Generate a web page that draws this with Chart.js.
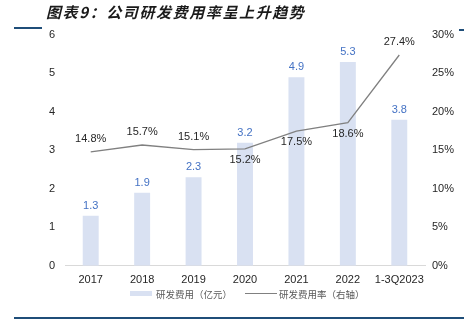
<!DOCTYPE html>
<html>
<head>
<meta charset="utf-8">
<script src="https://cdn.jsdelivr.net/npm/chart.js@4"></script>
<style>
  body { margin: 0; background: #fff; }
  #wrap { position: relative; width: 473px; height: 321px; overflow: hidden; }
  #title { position: absolute; left: 46px; top: 1px; font: italic bold 15px "Noto Sans CJK SC", sans-serif; color: #1a1a1a; letter-spacing: 1.6px; }
  .rule { position: absolute; background: #1F4E79; }
  #legend { position: absolute; top: 288px; left: 0; width: 473px; font: 9.5px "Noto Sans CJK SC", sans-serif; color: #595959; }
  .lg { position: absolute; top: 0; line-height: 12px; }
  canvas { position: absolute; left: 0; top: 0; }
</style>
</head>
<body>
<div id="wrap">
  <canvas id="rdChart" width="473" height="321"></canvas>
  <div id="title">图表9：公司研发费用率呈上升趋势</div>
  <div class="rule" style="left:14px;top:27px;width:28px;height:2px"></div>
  <div class="rule" style="left:459px;top:29px;width:5px;height:2px"></div>
  <div class="rule" style="left:14px;top:317px;width:450px;height:2px"></div>
  <div id="legend">
    <div class="lg" style="left:130px;top:3px;width:22px;height:5px;background:#D9E1F2"></div>
    <div class="lg" style="left:156px">研发费用（亿元）</div>
    <div class="lg" style="left:245px;top:5px;width:32px;height:1px;background:#808080"></div>
    <div class="lg" style="left:279px">研发费用率（右轴）</div>
  </div>
</div>
<script>
var categories = ['2017', '2018', '2019', '2020', '2021', '2022', '1-3Q2023'];
var rdExpense = [1.3, 1.9, 2.3, 3.2, 4.9, 5.3, 3.8];
var rdRate = [14.8, 15.7, 15.1, 15.2, 17.5, 18.6, 27.4];
// label above (-1) or below (+1) the line point
var rateLabelSide = [-1, -1, -1, 1, 1, 1, -1];

var labelPlugin = {
    id: 'labels',
    afterDatasetsDraw: function (chart) {
        var ctx = chart.ctx;
        ctx.save();
        ctx.font = '11px "Liberation Sans", Arial, sans-serif';
        ctx.textAlign = 'center';
        ctx.textBaseline = 'middle';
        var bars = chart.getDatasetMeta(1).data;
        ctx.fillStyle = '#4472C4';
        for (var i = 0; i < bars.length; i++) {
            ctx.fillText(rdExpense[i].toFixed(1), bars[i].x, bars[i].y - 10);
        }
        var pts = chart.getDatasetMeta(0).data;
        ctx.fillStyle = '#262626';
        for (var i = 0; i < pts.length; i++) {
            var off = rateLabelSide[i] < 0 ? -13 : 11;
            ctx.fillText(rdRate[i].toFixed(1) + '%', pts[i].x, pts[i].y + off);
        }
        ctx.restore();
    }
};

var ctx = document.getElementById('rdChart').getContext('2d');
var rdChart = new Chart(ctx, {
    data: {
        labels: categories,
        datasets: [{
            type: 'line',
            label: '研发费用率（右轴）',
            data: rdRate,
            yAxisID: 'y1',
            borderColor: '#808080',
            borderWidth: 1.3,
            pointRadius: 0,
            tension: 0,
            order: 0
        }, {
            type: 'bar',
            label: '研发费用（亿元）',
            data: rdExpense,
            yAxisID: 'y',
            backgroundColor: '#D9E1F2',
            categoryPercentage: 1,
            barPercentage: 0.31,
            order: 1
        }]
    },
    options: {
        responsive: false,
        animation: false,
        layout: { padding: { top: 35, bottom: 26, left: 0, right: 0 } },
        plugins: { legend: { display: false }, tooltip: { enabled: false } },
        scales: {
            x: {
                grid: { display: false, drawTicks: false },
                border: { color: '#D9D9D9', width: 1 },
                ticks: { color: '#262626', font: { size: 11, family: '"Liberation Sans", Arial' }, padding: 8, maxRotation: 0, autoSkip: false }
            },
            y: {
                position: 'left',
                min: 0, max: 6,
                grid: { display: false, drawTicks: false },
                border: { display: false },
                ticks: { stepSize: 1, color: '#262626', font: { size: 11, family: '"Liberation Sans", Arial' }, padding: 10 },
                afterFit: function (s) { s.width = 65; }
            },
            y1: {
                position: 'right',
                min: 0, max: 30,
                grid: { display: false, drawTicks: false },
                border: { display: false },
                ticks: { stepSize: 5, color: '#262626', font: { size: 11, family: '"Liberation Sans", Arial' }, padding: 7,
                    callback: function (v) { return v + '%'; } },
                afterFit: function (s) { s.width = 48; }
            }
        }
    },
    plugins: [labelPlugin]
});
</script>
</body>
</html>
